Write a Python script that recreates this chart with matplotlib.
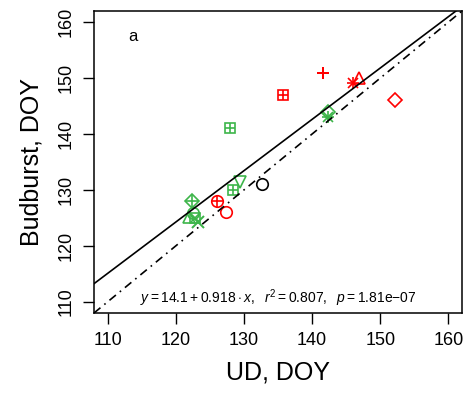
import matplotlib
matplotlib.use("Agg")
import matplotlib.pyplot as plt
import numpy as np

plt.rcParams['font.family'] = ['Liberation Sans', 'DejaVu Sans']
plt.rcParams['mathtext.fontset'] = 'custom'
plt.rcParams['mathtext.rm'] = 'Liberation Sans'
plt.rcParams['mathtext.it'] = 'Liberation Sans:italic'

# data (UD, Budburst), marker code, group colour
red_x = [141.6, 146.0, 146.9, 152.2, 135.7, 126.0, 127.3]
red_y = [151.0, 149.1, 150.0, 146.0, 147.0, 128.0, 126.0]
red_m = ['+', '*', '^', 'D', 'sqplus', 'cplus', 'o']

green_x = [127.9, 128.4, 129.4, 142.3, 142.3, 122.4, 122.0, 122.5, 122.8, 123.3]
green_y = [141.0, 130.0, 131.5, 144.0, 143.0, 128.0, 125.2, 125.8, 125.0, 124.2]
green_m = ['sqplus', 'sqplus', 'v', 'D', '*', 'dplus', '^', 'o', 'sqx', 'x']

black_x = [132.7]
black_y = [131.0]
black_m = ['o']

intercept = 14.1
slope = 0.918
eq_text = r"$y = 14.1 + 0.918\cdot x,\ \ r^2 = 0.807,\ \ p = 1.81\mathrm{e}{-}07$"

xticks = [110, 120, 130, 140, 150, 160]
yticks = [110, 120, 130, 140, 150, 160]
lims = (108, 162)

RED = '#FF0000'
GREEN = '#3DB54A'

fig = plt.figure(figsize=(4.71, 3.98), dpi=100)
ax = fig.add_axes([94/471, 1-313/398, 368/471, 302/398])

def draw(x, y, m, c):
    ms = 8.3
    mew = 1.2
    if m in ('o', '^', 'v', 'D'):
        size = ms * (0.8 if m == 'D' else 1.0)
        ax.plot(x, y, marker=m, ms=size, mfc='none', mec=c, mew=mew, ls='none')
    elif m in ('+', 'x'):
        ax.plot(x, y, marker=m, ms=ms, mec=c, mew=mew*1.2, ls='none')
    elif m == '*':
        ax.plot(x, y, marker='+', ms=ms*1.1, mec=c, mew=mew, ls='none')
        ax.plot(x, y, marker='x', ms=ms*0.85, mec=c, mew=mew, ls='none')
    elif m == 'sqplus':
        ax.plot(x, y, marker='s', ms=ms*0.85, mfc='none', mec=c, mew=mew, ls='none')
        ax.plot(x, y, marker='+', ms=ms*0.85, mec=c, mew=mew, ls='none')
    elif m == 'sqx':
        ax.plot(x, y, marker='s', ms=ms*0.85, mfc='none', mec=c, mew=mew, ls='none')
        ax.plot(x, y, marker='x', ms=ms*0.85, mec=c, mew=mew, ls='none')
    elif m == 'cplus':
        ax.plot(x, y, marker='o', ms=ms, mfc='none', mec=c, mew=mew, ls='none')
        ax.plot(x, y, marker='+', ms=ms, mec=c, mew=mew, ls='none')
    elif m == 'dplus':
        ax.plot(x, y, marker='D', ms=ms*0.8, mfc='none', mec=c, mew=mew, ls='none')
        ax.plot(x, y, marker='+', ms=ms*1.1, mec=c, mew=mew, ls='none')

for xs, ys, ms_, c in [(red_x, red_y, red_m, RED), (green_x, green_y, green_m, GREEN),
                       (black_x, black_y, black_m, 'black')]:
    for xi, yi, mi in zip(xs, ys, ms_):
        draw(xi, yi, mi, c)

xx = np.array(lims)
ax.plot(xx, intercept + slope * xx, color='black', lw=1.2)
ax.plot(xx, xx, color='black', lw=1.2, ls=(0, (5, 3, 1, 3)))

ax.set_xlim(lims)
ax.set_ylim(lims)
ax.set_xticks(xticks)
ax.set_yticks(yticks)
ax.tick_params(axis='both', direction='out', length=8, width=1.0, labelsize=13, pad=6)
for lab in ax.get_yticklabels():
    lab.set_rotation(90)
    lab.set_va('center')
for s in ax.spines.values():
    s.set_linewidth(1.1)

ax.set_xlabel('UD, DOY', fontsize=18, labelpad=8)
ax.set_ylabel('Budburst, DOY', fontsize=18, labelpad=10)

ax.text(113.7, 157.4, 'a', fontsize=12, ha='center', va='center')
ax.text(135.0, 110.6, eq_text, fontsize=10, ha='center', va='center')

fig.savefig('out.png', dpi=100)
